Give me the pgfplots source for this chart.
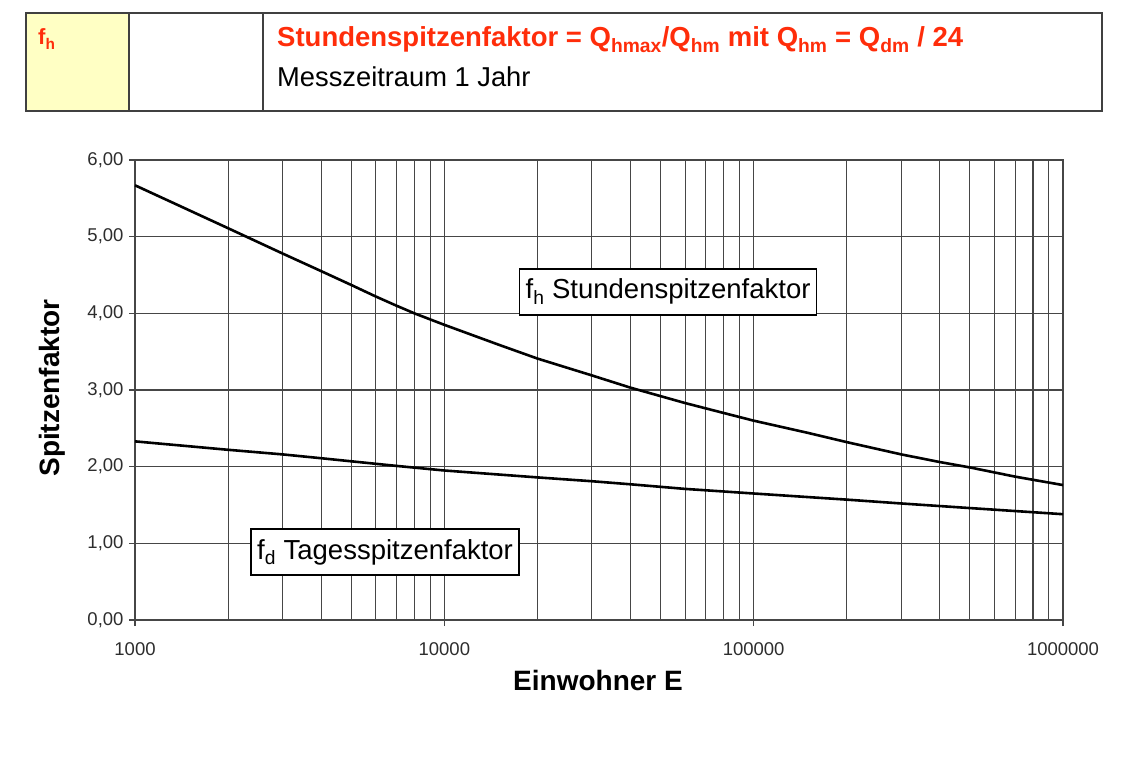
\documentclass[border=0pt]{standalone}
\usepackage{fontspec}
\setmainfont{Liberation Sans}
\usepackage{pgfplots}
\pgfplotsset{compat=1.18}
\definecolor{hdrred}{RGB}{255,45,10}
\definecolor{hdryel}{RGB}{255,255,196}
\definecolor{gridc}{RGB}{70,70,70}
\definecolor{tickc}{RGB}{45,45,45}

\begin{document}
\begin{tikzpicture}
\path[use as bounding box] (0pt,0pt) rectangle (1146pt,758pt);
% ---- header table ----
\fill[hdryel] (26pt,647pt) rectangle (129pt,745pt);
\draw[line width=1.6pt, black!75] (26pt,647pt) rectangle (1102pt,745pt);
\draw[line width=1.6pt, black!75] (129pt,647pt) -- (129pt,745pt) (263pt,647pt) -- (263pt,745pt);
\node[anchor=base west, inner sep=0pt, text=hdrred, font=\fontsize{22}{26}\bfseries\selectfont] at (38pt,713pt) {f\textsubscript{h}};
\node[anchor=base west, inner sep=0pt, text=hdrred, font=\fontsize{27.5}{32}\bfseries\selectfont] at (277pt,711pt)
  {Stundenspitzenfaktor = Q\textsubscript{hmax}/Q\textsubscript{hm} mit Q\textsubscript{hm} = Q\textsubscript{dm} / 24};
\node[anchor=base west, inner sep=0pt, font=\fontsize{27.3}{32}\selectfont] at (277pt,671pt) {Messzeitraum 1 Jahr};

% ---- axis labels ----
\node[rotate=90, font=\fontsize{28}{32}\bfseries\selectfont] at (52pt,370pt) {Spitzenfaktor};
\node[font=\fontsize{28}{32}\bfseries\selectfont] at (598pt,78pt) {Einwohner E};

\begin{axis}[
  at={(135pt,138pt)}, anchor=south west,
  scale only axis, width=928pt, height=460pt,
  xmode=log, xmin=1000, xmax=1000000, ymin=0, ymax=6,
  xtick={1000,10000,100000,1000000},
  xticklabels={1000,10000,100000,1000000},
  minor xtick={2000,3000,4000,5000,6000,7000,8000,9000,20000,30000,40000,50000,60000,70000,80000,90000,200000,300000,400000,500000,600000,700000,800000,900000},
  ytick={0,1,2,3,4,5,6},
  yticklabels={{0,00},{1,00},{2,00},{3,00},{4,00},{5,00},{6,00}},
  xmajorgrids, xminorgrids, ymajorgrids,
  grid style={gridc, line width=1.1pt},
  minor grid style={gridc, line width=1.1pt},
  axis line style={gridc, line width=1.3pt},
  tick align=outside, xtick pos=bottom, ytick pos=left,
  major tick length=6pt, minor tick length=0pt,
  tick style={gridc, line width=1.1pt},
  ticklabel style={text=tickc, font=\fontsize{18.5}{22}\selectfont},
  xticklabel style={yshift=-13pt},
  yticklabel style={xshift=-2pt},
  clip=false,
]
\addplot[black, line width=2.6pt] table {
x y
1000 5.67
2000 5.11
3000 4.78
4000 4.55
5000 4.37
6000 4.22
7000 4.10
8000 4.00
10000 3.85
15000 3.59
20000 3.41
30000 3.19
40000 3.03
50000 2.92
60000 2.83
80000 2.70
100000 2.60
150000 2.44
200000 2.32
300000 2.16
400000 2.06
500000 1.99
700000 1.87
1000000 1.76
};
\addplot[black, line width=2.6pt] table {
x y
1000 2.33
2000 2.22
3000 2.16
4000 2.11
5000 2.07
7000 2.01
10000 1.95
20000 1.86
30000 1.81
40000 1.77
60000 1.71
100000 1.65
200000 1.57
300000 1.52
500000 1.46
1000000 1.38
};
\node[draw=black, line width=1.3pt, fill=white, inner xsep=6pt, minimum height=46pt,
  font=\fontsize{27.5}{32}\selectfont] at (axis cs:52870,4.28) {f\textsubscript{h} Stundenspitzenfaktor};
\node[draw=black, line width=1.3pt, fill=white, inner xsep=6pt, minimum height=46pt,
  font=\fontsize{27.5}{32}\selectfont] at (axis cs:6430,0.887) {f\textsubscript{d} Tagesspitzenfaktor};
\end{axis}
\end{tikzpicture}
\end{document}
